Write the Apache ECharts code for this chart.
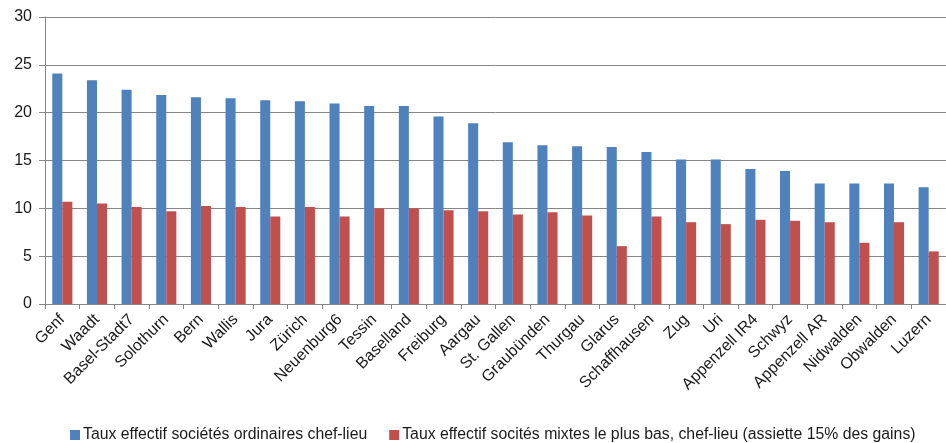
<!DOCTYPE html>
<html>
<head>
<meta charset="utf-8">
<script src="https://cdn.jsdelivr.net/npm/echarts@6/dist/echarts.min.js"></script>
<style>html,body{margin:0;padding:0;background:#fff}#c{width:946px;height:443px}</style>
</head>
<body>
<div id="c"></div>
<script>
const categories = ["Genf","Waadt","Basel-Stadt7","Solothurn","Bern","Wallis","Jura","Zürich","Neuenburg6","Tessin","Baselland","Freiburg","Aargau","St. Gallen","Graubünden","Thurgau","Glarus","Schaffhausen","Zug","Uri","Appenzell IR4","Schwyz","Appenzell AR","Nidwalden","Obwalden","Luzern"];
const ordinaires = [24.1,23.4,22.4,21.85,21.6,21.5,21.3,21.2,20.95,20.7,20.7,19.6,18.9,16.9,16.6,16.5,16.4,15.9,15.1,15.1,14.1,13.9,12.6,12.6,12.6,12.2];
const mixtes = [10.7,10.5,10.15,9.7,10.25,10.15,9.15,10.15,9.15,10.0,10.0,9.8,9.7,9.35,9.6,9.25,6.05,9.15,8.55,8.35,8.8,8.7,8.55,6.4,8.55,5.5];
const seriesNames = ["Taux effectif sociétés ordinaires chef-lieu","Taux effectif socités mixtes le plus bas, chef-lieu (assiette 15% des gains)"];
const yTicks = {min:0,max:30,interval:5};

const font = "Liberation Sans";
const chart = echarts.init(document.getElementById('c'), null, {renderer:'canvas'});
chart.setOption({
  animation:false,
  textStyle:{fontFamily:font},
  grid:{left:45,right:0,top:17,bottom:139,containLabel:false},
  legend:{
    left:65, top:422, itemWidth:10, itemHeight:10, itemGap:22,
    icon:'rect',
    textStyle:{fontSize:15.8,color:'#1a1a1a',fontFamily:font,padding:[0,0,0,-2]},
    data:seriesNames
  },
  xAxis:{
    type:'category', data:categories, boundaryGap:true,
    axisLine:{lineStyle:{color:'#868686'}},
    axisTick:{show:true,length:5,alignWithLabel:false,lineStyle:{color:'#868686'}},
    axisLabel:{rotate:45,interval:0,fontSize:16,color:'#1a1a1a',margin:13,fontFamily:font}
  },
  yAxis:{
    type:'value', min:yTicks.min, max:yTicks.max, interval:yTicks.interval,
    axisLine:{show:true,lineStyle:{color:'#868686'}},
    axisTick:{show:true,length:6,lineStyle:{color:'#868686'}},
    axisLabel:{fontSize:16,color:'#1a1a1a',margin:13,fontFamily:font},
    splitLine:{lineStyle:{color:'#868686',width:1}}
  },
  series:[
    {name:seriesNames[0],type:'bar',data:ordinaires,barGap:'0%',barCategoryGap:'42%',itemStyle:{color:'#4F81BD'}},
    {name:seriesNames[1],type:'bar',data:mixtes,itemStyle:{color:'#C0504D'}}
  ]
});
</script>
</body>
</html>
